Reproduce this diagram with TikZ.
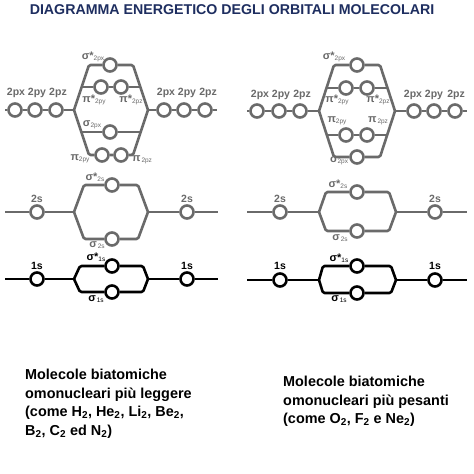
\documentclass[tikz,border=0pt]{standalone}
\usepackage{fontspec}
\setmainfont{Liberation Sans}
\definecolor{navy}{RGB}{30,46,96}
\definecolor{lgray}{RGB}{106,106,106}
\newcommand{\orbl}[2]{{\fontsize{11}{11}\selectfont\bfseries #1}{\fontsize{6.5}{6.5}\selectfont\raisebox{-0.35ex}{#2}}}
\begin{document}
\begin{tikzpicture}[x=1pt,y=-1pt,
  wire/.style={line width=2.6pt, line join=round, rounded corners=1.5pt},
  orb/.style={circle, draw, fill=white, line width=2.6pt, minimum size=13pt, inner sep=0pt},
  glab/.style={text=lgray, font=\fontsize{10.5}{10.5}\selectfont\bfseries, inner sep=0pt},
  olab/.style={inner sep=0pt},
  btxt/.style={font=\fontsize{14.4}{18.5}\selectfont\bfseries, align=left, anchor=north west, inner sep=0pt}]
\useasboundingbox (0,0) rectangle (474,474);
\fill[white] (0,0) rectangle (474,474);

\node[text=navy, font=\fontsize{14.2}{14.2}\selectfont\bfseries] (title) at (232,10) {DIAGRAMMA ENERGETICO DEGLI ORBITALI MOLECOLARI};

% ================= LEFT 2p =================
\begin{scope}[lgray, every node/.append style={text=lgray}]
\coordinate (a0) at (5,110);
\node[orb] (a1) at (15,110) {};
\node[orb] (a2) at (35,110) {};
\node[orb] (a3) at (56,110) {};
\coordinate (aJ1) at (74,110);
\coordinate (aJ2) at (148,110);
\node[orb] (a4) at (164,110) {};
\node[orb] (a5) at (184,110) {};
\node[orb] (a6) at (205,110) {};
\coordinate (a7) at (217,110);
\coordinate (aTL) at (89,65);
\coordinate (aTR) at (133,65);
\coordinate (aBL) at (89,155);
\coordinate (aBR) at (133,155);
\node[orb] (asx) at (110,65) {};
\coordinate (apsL) at (81.7,87);
\coordinate (apsR) at (140.3,87);
\node[orb] (apsy) at (101,87) {};
\node[orb] (apsz) at (121,87) {};
\coordinate (asL) at (81.3,132);
\coordinate (asR) at (140.7,132);
\node[orb] (as) at (110,132) {};
\node[orb] (apy) at (102,155) {};
\node[orb] (apz) at (121,155) {};
\draw[wire] (a0) -- (a1) -- (a2) -- (a3) -- (aJ1);
\draw[wire] (aJ2) -- (a4) -- (a5) -- (a6) -- (a7);
\draw[wire] (aJ1) -- (aTL) -- (asx) -- (aTR) -- (aJ2);
\draw[wire] (aJ1) -- (aBL) -- (apy) -- (apz) -- (aBR) -- (aJ2);
\draw[wire] (apsL) -- (apsy) -- (apsz) -- (apsR);
\draw[wire] (asL) -- (as) -- (asR);
\node[glab] (la1) at (16,93) {2px};
\node[glab] (la2) at (37,93) {2py};
\node[glab] (la3) at (58,93) {2pz};
\node[glab] (la4) at (166,93) {2px};
\node[glab] (la5) at (187,93) {2py};
\node[glab] (la6) at (208,93) {2pz};
\node[olab] (lasx) at (93,57) {\orbl{σ*}{2px}};
\node[olab] (lapsy) at (94,100) {\orbl{π*}{2py}};
\node[olab] (lapsz) at (131,100) {\orbl{π*}{2pz}};
\node[olab] (las) at (92,125) {\orbl{σ}{2px}};
\node[olab] (lapy) at (80,159) {\orbl{π}{2py}};
\node[olab] (lapz) at (142,160) {\orbl{π}{\,2pz}};

% ================= LEFT 2s =================
\coordinate (b0) at (5,212);
\node[orb] (b1) at (37,212) {};
\coordinate (bJ1) at (74,212);
\coordinate (bJ2) at (148,212);
\node[orb] (b2) at (187,212) {};
\coordinate (b3) at (218,212);
\coordinate (bTL) at (84,185);
\coordinate (bTR) at (138,185);
\coordinate (bBL) at (84,239);
\coordinate (bBR) at (138,239);
\node[orb] (bs1) at (112,185) {};
\node[orb] (bs2) at (112,239) {};
\draw[wire] (b0) -- (b1) -- (bJ1);
\draw[wire] (bJ2) -- (b2) -- (b3);
\draw[wire] (bJ1) -- (bTL) -- (bs1) -- (bTR) -- (bJ2);
\draw[wire] (bJ1) -- (bBL) -- (bs2) -- (bBR) -- (bJ2);
\node[glab] (lb1) at (37,199) {2s};
\node[glab] (lb2) at (187,199) {2s};
\node[olab] (lbs1) at (95,177) {\orbl{σ*}{2s}};
\node[olab] (lbs2) at (97,245) {\orbl{σ}{\,2s}};

% ================= RIGHT 2p =================
\coordinate (c0) at (247,111);
\node[orb] (c1) at (257,111) {};
\node[orb] (c2) at (279,111) {};
\node[orb] (c3) at (300,111) {};
\coordinate (cJ1) at (319,111);
\coordinate (cJ2) at (395,111);
\node[orb] (c4) at (414,111) {};
\node[orb] (c5) at (434,111) {};
\node[orb] (c6) at (455,111) {};
\coordinate (c7) at (467,111);
\coordinate (cTL) at (334,65);
\coordinate (cTR) at (380,65);
\coordinate (cBL) at (334,157);
\coordinate (cBR) at (380,157);
\node[orb] (csx) at (357,65) {};
\coordinate (cpsL) at (326.5,88);
\coordinate (cpsR) at (387.5,88);
\node[orb] (cpsy) at (346,88) {};
\node[orb] (cpsz) at (367,88) {};
\coordinate (cpL) at (326.8,135);
\coordinate (cpR) at (387.2,135);
\node[orb] (cpy) at (346,135) {};
\node[orb] (cpz) at (367,135) {};
\node[orb] (cs) at (357,157) {};
\draw[wire] (c0) -- (c1) -- (c2) -- (c3) -- (cJ1);
\draw[wire] (cJ2) -- (c4) -- (c5) -- (c6) -- (c7);
\draw[wire] (cJ1) -- (cTL) -- (csx) -- (cTR) -- (cJ2);
\draw[wire] (cJ1) -- (cBL) -- (cs) -- (cBR) -- (cJ2);
\draw[wire] (cpsL) -- (cpsy) -- (cpsz) -- (cpsR);
\draw[wire] (cpL) -- (cpy) -- (cpz) -- (cpR);
\node[glab] (lc1) at (260,95) {2px};
\node[glab] (lc2) at (281,95) {2py};
\node[glab] (lc3) at (302,95) {2pz};
\node[glab] (lc4) at (413,95) {2px};
\node[glab] (lc5) at (434,95) {2py};
\node[glab] (lc6) at (456,95) {2pz};
\node[olab] (lcsx) at (334,57) {\orbl{σ*}{2px}};
\node[olab] (lcpsy) at (337,100) {\orbl{π*}{2py}};
\node[olab] (lcpsz) at (378,100) {\orbl{π*}{2pz}};
\node[olab] (lcpy) at (337,121) {\orbl{π}{2py}};
\node[olab] (lcpz) at (378,121) {\orbl{π}{\,2pz}};
\node[olab] (lcs) at (339,161) {\orbl{σ}{2px}};

% ================= RIGHT 2s =================
\coordinate (d0) at (247,212);
\node[orb] (d1) at (280,212) {};
\coordinate (dJ1) at (319,212);
\coordinate (dJ2) at (396,212);
\node[orb] (d2) at (435,212) {};
\coordinate (d3) at (467,212);
\coordinate (dTL) at (326,192);
\coordinate (dTR) at (389,192);
\coordinate (dBL) at (326,231);
\coordinate (dBR) at (389,231);
\node[orb] (ds1) at (357,192) {};
\node[orb] (ds2) at (357,231) {};
\draw[wire] (d0) -- (d1) -- (dJ1);
\draw[wire] (dJ2) -- (d2) -- (d3);
\draw[wire] (dJ1) -- (dTL) -- (ds1) -- (dTR) -- (dJ2);
\draw[wire] (dJ1) -- (dBL) -- (ds2) -- (dBR) -- (dJ2);
\node[glab] (ld1) at (280,199) {2s};
\node[glab] (ld2) at (435,199) {2s};
\node[olab] (lds1) at (338,184) {\orbl{σ*}{2s}};
\node[olab] (lds2) at (340,238) {\orbl{σ}{\,2s}};
\end{scope}

% ================= LEFT 1s =================
\begin{scope}[black]
\coordinate (e0) at (5,279);
\node[orb] (e1) at (37,279) {};
\coordinate (eJ1) at (74,279);
\coordinate (eJ2) at (148,279);
\node[orb] (e2) at (187,279) {};
\coordinate (e3) at (218,279);
\coordinate (eTL) at (80,266);
\coordinate (eTR) at (143,266);
\coordinate (eBL) at (80,292);
\coordinate (eBR) at (143,292);
\node[orb] (es1) at (112,266) {};
\node[orb] (es2) at (112,292) {};
\draw[wire] (e0) -- (e1) -- (eJ1);
\draw[wire] (eJ2) -- (e2) -- (e3);
\draw[wire] (eJ1) -- (eTL) -- (es1) -- (eTR) -- (eJ2);
\draw[wire] (eJ1) -- (eBL) -- (es2) -- (eBR) -- (eJ2);
\node[glab, text=black] (le1) at (37,266) {1s};
\node[glab, text=black] (le2) at (187,266) {1s};
\node[olab] (les1) at (96,257) {\orbl{σ*}{1s}};
\node[olab] (les2) at (96,299) {\orbl{σ}{\,1s}};

% ================= RIGHT 1s =================
\coordinate (f0) at (247,280);
\node[orb] (f1) at (280,280) {};
\coordinate (fJ1) at (319,280);
\coordinate (fJ2) at (396,280);
\node[orb] (f2) at (435,280) {};
\coordinate (f3) at (467,280);
\coordinate (fTL) at (323,266);
\coordinate (fTR) at (391,266);
\coordinate (fBL) at (323,293);
\coordinate (fBR) at (391,293);
\node[orb] (fs1) at (357,266) {};
\node[orb] (fs2) at (357,293) {};
\draw[wire] (f0) -- (f1) -- (fJ1);
\draw[wire] (fJ2) -- (f2) -- (f3);
\draw[wire] (fJ1) -- (fTL) -- (fs1) -- (fTR) -- (fJ2);
\draw[wire] (fJ1) -- (fBL) -- (fs2) -- (fBR) -- (fJ2);
\node[glab, text=black] (lf1) at (280,266) {1s};
\node[glab, text=black] (lf2) at (435,266) {1s};
\node[olab] (lfs1) at (339,258) {\orbl{σ*}{1s}};
\node[olab] (lfs2) at (339,299) {\orbl{σ}{\,1s}};
\end{scope}

% ================= captions =================
\node[btxt] (capL) at (25,369) {Molecole biatomiche\\omonucleari più leggere\\(come H\textsubscript{2}, He\textsubscript{2}, Li\textsubscript{2}, Be\textsubscript{2},\\B\textsubscript{2}, C\textsubscript{2} ed N\textsubscript{2})};
\node[btxt] (capR) at (283,376) {Molecole biatomiche\\omonucleari più pesanti\\(come O\textsubscript{2}, F\textsubscript{2} e Ne\textsubscript{2})};
\end{tikzpicture}
\end{document}
